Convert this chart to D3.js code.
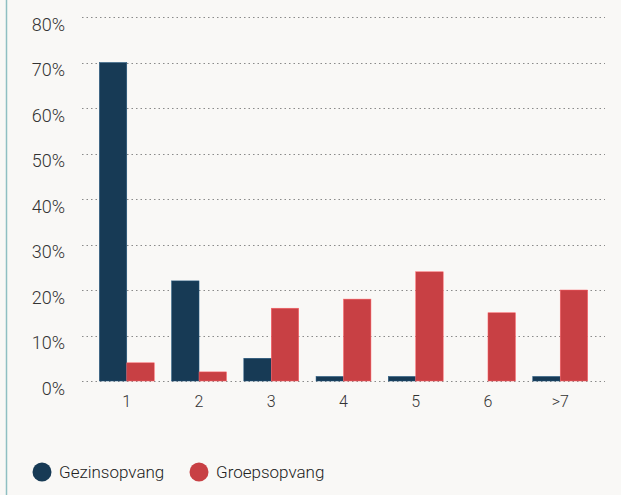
<!DOCTYPE html>
<html>
<head>
<meta charset="utf-8">
<script src="https://cdn.jsdelivr.net/npm/d3@7"></script>
<style>
  body { margin:0; background:#f9f8f6; }
  svg { display:block; font-family: Roboto, "DejaVu Sans", sans-serif; font-weight:300; }
</style>
</head>
<body>
<div id="chart"></div>
<script>
// data
var categories = ["1", "2", "3", "4", "5", "6", ">7"];
var seriesNames = ["Gezinsopvang", "Groepsopvang"];
var gezinsopvang = [70, 22, 5, 1, 1, 0, 1];
var groepsopvang = [4, 2, 16, 18, 24, 15, 20];
var yTicks = [0, 10, 20, 30, 40, 50, 60, 70, 80];
var colors = ["#173a55", "#c84044"];

var width = 621, height = 495;
var svg = d3.select("#chart").append("svg")
  .attr("width", width)
  .attr("height", height);

svg.append("rect").attr("width", width).attr("height", height).attr("fill", "#f9f8f6");
// left accent line
svg.append("line")
  .attr("x1", 6.5).attr("x2", 6.5).attr("y1", 0).attr("y2", height)
  .attr("stroke", "#8fbfc2").attr("stroke-width", 1.5);

var x = d3.scaleBand().domain(categories).range([82, 605]).paddingInner(0.24).paddingOuter(0.24);
var xs = d3.scaleBand().domain(seriesNames).range([0, x.bandwidth()]);
var y = d3.scaleLinear().domain([0, 80]).range([381, 17]);

// gridlines
svg.append("g").selectAll("line").data(yTicks).join("line")
  .attr("x1", 82).attr("x2", 605)
  .attr("y1", function(d){ return Math.round(y(d)) + 0.5; })
  .attr("y2", function(d){ return Math.round(y(d)) + 0.5; })
  .attr("stroke", "#8a8a8a").attr("stroke-width", 1.2)
  .attr("stroke-dasharray", "1.5,3");

// y labels
svg.append("g").selectAll("text").data(yTicks).join("text")
  .attr("x", 65).attr("y", function(d){ return y(d) + 13.5; })
  .attr("text-anchor", "end")
  .attr("font-size", 18).attr("fill", "#333")
  .text(function(d){ return d + "%"; });

// bars
var series = [gezinsopvang, groepsopvang];
series.forEach(function(vals, s) {
  svg.append("g").selectAll("rect").data(vals).join("rect")
    .attr("x", function(d, i){ return x(categories[i]) + xs(seriesNames[s]); })
    .attr("y", function(d){ return y(d); })
    .attr("width", xs.bandwidth())
    .attr("height", function(d){ return y(0) - y(d); })
    .attr("fill", colors[s])
    .attr("stroke", d3.color(colors[s]).brighter(1.2))
    .attr("stroke-width", 0.5);
});

// x labels
svg.append("g").selectAll("text").data(categories).join("text")
  .attr("x", function(d){ return x(d) + x.bandwidth() / 2; })
  .attr("y", 407)
  .attr("text-anchor", "middle")
  .attr("font-size", 16).attr("fill", "#333")
  .text(function(d){ return d; });

// legend
var legX = [42, 199];
seriesNames.forEach(function(n, i) {
  svg.append("circle").attr("cx", legX[i]).attr("cy", 472).attr("r", 9.5).attr("fill", colors[i]);
  svg.append("text").attr("x", legX[i] + 17).attr("y", 478)
    .attr("font-size", 17).attr("fill", "#222").text(n);
});
</script>
</body>
</html>
